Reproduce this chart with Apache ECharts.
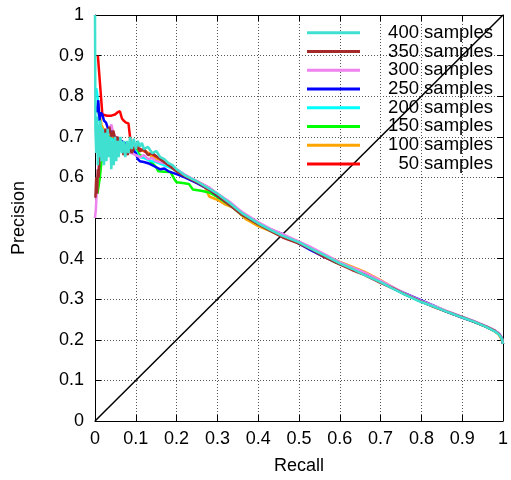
<!DOCTYPE html>
<html>
<head>
<meta charset="utf-8">
<script src="https://cdn.jsdelivr.net/npm/echarts@6/dist/echarts.min.js"></script>
<style>html,body{margin:0;padding:0;background:#fff;overflow:hidden}#c{width:511px;height:480px}</style>
</head>
<body>
<div id="c"></div>
<script>
var xTicks = ['0','0.1','0.2','0.3','0.4','0.5','0.6','0.7','0.8','0.9','1'];
var seriesNames = ['400 samples','350 samples','300 samples','250 samples','200 samples','150 samples','100 samples','50 samples'];
var seriesColors = ['#40e0d0','#a52a2a','#ee82ee','#0000ff','#00ffff','#00ff00','#ffa500','#ff0000'];

var s400 = [[0,1],[0.001,0.72],[0.003,0.66],[0.005,0.75],[0.007,0.63],[0.009,0.73],[0.011,0.65],[0.013,0.74],[0.016,0.64],[0.019,0.72],[0.022,0.63],[0.025,0.71],[0.028,0.64],[0.031,0.72],[0.034,0.65],[0.037,0.7],[0.040,0.62],[0.043,0.69],[0.046,0.63],[0.049,0.7],[0.052,0.64],[0.055,0.69],[0.058,0.65],[0.062,0.7],[0.066,0.66],[0.07,0.69],[0.074,0.65],[0.078,0.69],[0.082,0.66],[0.086,0.7],[0.09,0.67],[0.095,0.695],[0.1,0.67],[0.105,0.69],[0.11,0.675],[0.115,0.685],[0.12,0.67],[0.13,0.675],[0.14,0.66],[0.15,0.665],[0.16,0.65],[0.17,0.645],[0.18,0.635],[0.19,0.63],[0.2,0.62],[0.22,0.605],[0.25,0.59],[0.28,0.572],[0.3,0.56],[0.33,0.537],[0.36,0.512],[0.4,0.487],[0.43,0.471],[0.46,0.456],[0.5,0.44],[0.53,0.424],[0.56,0.409],[0.6,0.388],[0.63,0.375],[0.66,0.36],[0.7,0.342],[0.73,0.326],[0.76,0.311],[0.8,0.293],[0.83,0.282],[0.86,0.27],[0.9,0.255],[0.93,0.244],[0.96,0.231],[0.98,0.221],[0.99,0.213],[0.997,0.203],[1,0.19]];
var s350 = [[0.001,0.55],[0.003,0.6],[0.005,0.56],[0.007,0.62],[0.009,0.6],[0.011,0.65],[0.014,0.68],[0.018,0.66],[0.022,0.7],[0.026,0.72],[0.03,0.7],[0.035,0.725],[0.04,0.7],[0.045,0.715],[0.05,0.69],[0.055,0.7],[0.06,0.67],[0.065,0.68],[0.07,0.655],[0.075,0.67],[0.08,0.655],[0.085,0.675],[0.09,0.66],[0.1,0.68],[0.11,0.665],[0.12,0.67],[0.13,0.655],[0.14,0.66],[0.16,0.645],[0.18,0.63],[0.2,0.615],[0.22,0.603],[0.25,0.588],[0.28,0.57],[0.3,0.556],[0.33,0.532],[0.36,0.508],[0.4,0.485],[0.43,0.468],[0.46,0.452],[0.5,0.437],[0.53,0.423],[0.56,0.405],[0.6,0.386],[0.63,0.372],[0.66,0.36],[0.7,0.34],[0.73,0.327],[0.76,0.312],[0.8,0.294],[0.83,0.281],[0.86,0.27],[0.9,0.256],[0.93,0.244],[0.96,0.232],[0.98,0.222],[0.99,0.214],[0.997,0.204],[1,0.19]];
var s300 = [[0,0.5],[0.002,0.52],[0.004,0.56],[0.006,0.6],[0.009,0.63],[0.012,0.66],[0.016,0.68],[0.02,0.7],[0.025,0.71],[0.03,0.7],[0.035,0.72],[0.04,0.73],[0.045,0.71],[0.05,0.7],[0.055,0.69],[0.06,0.68],[0.065,0.67],[0.07,0.675],[0.075,0.66],[0.08,0.665],[0.09,0.66],[0.1,0.655],[0.11,0.65],[0.12,0.655],[0.13,0.645],[0.14,0.648],[0.15,0.64],[0.17,0.635],[0.19,0.628],[0.2,0.62],[0.22,0.607],[0.25,0.59],[0.28,0.575],[0.3,0.56],[0.33,0.54],[0.36,0.515],[0.4,0.49],[0.43,0.473],[0.46,0.46],[0.5,0.442],[0.53,0.428],[0.56,0.412],[0.6,0.391],[0.63,0.378],[0.66,0.366],[0.7,0.346],[0.73,0.33],[0.76,0.314],[0.8,0.296],[0.83,0.284],[0.86,0.272],[0.9,0.257],[0.93,0.246],[0.96,0.233],[0.98,0.223],[0.99,0.216],[0.997,0.206],[1,0.19]];
var s250 = [[0.004,0.76],[0.008,0.79],[0.011,0.74],[0.014,0.76],[0.018,0.755],[0.022,0.74],[0.027,0.735],[0.032,0.72],[0.038,0.715],[0.044,0.705],[0.05,0.7],[0.057,0.695],[0.064,0.69],[0.072,0.685],[0.08,0.68],[0.088,0.68],[0.095,0.665],[0.1,0.66],[0.105,0.645],[0.11,0.64],[0.12,0.638],[0.13,0.635],[0.14,0.63],[0.15,0.625],[0.16,0.62],[0.17,0.622],[0.18,0.615],[0.2,0.608],[0.22,0.6],[0.25,0.586],[0.28,0.57],[0.3,0.555],[0.33,0.533],[0.36,0.51],[0.4,0.486],[0.43,0.472],[0.46,0.46],[0.5,0.437],[0.53,0.42],[0.56,0.405],[0.6,0.387],[0.63,0.375],[0.66,0.361],[0.7,0.342],[0.73,0.327],[0.76,0.314],[0.8,0.297],[0.83,0.284],[0.86,0.27],[0.9,0.255],[0.93,0.244],[0.96,0.232],[0.98,0.222],[0.99,0.215],[0.997,0.205],[1,0.19]];
var s200 = [[0.003,0.82],[0.006,0.8],[0.009,0.76],[0.012,0.73],[0.016,0.72],[0.02,0.71],[0.025,0.705],[0.03,0.7],[0.04,0.695],[0.05,0.69],[0.06,0.685],[0.07,0.68],[0.08,0.675],[0.09,0.67],[0.1,0.665],[0.105,0.655],[0.11,0.65],[0.12,0.648],[0.13,0.643],[0.14,0.64],[0.15,0.638],[0.17,0.63],[0.19,0.622],[0.2,0.615],[0.22,0.602],[0.25,0.587],[0.28,0.571],[0.3,0.558],[0.33,0.536],[0.36,0.511],[0.4,0.487],[0.43,0.47],[0.46,0.456],[0.5,0.44],[0.53,0.425],[0.56,0.41],[0.6,0.39],[0.63,0.377],[0.66,0.362],[0.7,0.343],[0.73,0.327],[0.76,0.311],[0.8,0.293],[0.83,0.283],[0.86,0.271],[0.9,0.256],[0.93,0.245],[0.96,0.232],[0.98,0.222],[0.99,0.215],[0.997,0.205],[1,0.19]];
var s150 = [[0.006,0.56],[0.009,0.58],[0.012,0.6],[0.015,0.63],[0.018,0.66],[0.022,0.68],[0.027,0.69],[0.033,0.7],[0.04,0.695],[0.05,0.69],[0.06,0.685],[0.07,0.68],[0.08,0.675],[0.09,0.67],[0.1,0.668],[0.11,0.655],[0.12,0.65],[0.13,0.645],[0.14,0.635],[0.15,0.625],[0.155,0.615],[0.17,0.614],[0.185,0.613],[0.195,0.595],[0.2,0.588],[0.215,0.586],[0.23,0.584],[0.24,0.57],[0.26,0.567],[0.28,0.563],[0.3,0.552],[0.33,0.532],[0.36,0.508],[0.4,0.485],[0.43,0.469],[0.46,0.455],[0.5,0.438],[0.53,0.422],[0.56,0.407],[0.59,0.39],[0.62,0.38],[0.66,0.363],[0.7,0.343],[0.73,0.328],[0.76,0.312],[0.8,0.294],[0.83,0.283],[0.86,0.27],[0.9,0.256],[0.93,0.244],[0.96,0.232],[0.98,0.222],[0.99,0.214],[0.997,0.204],[1,0.19]];
var s100 = [[0.005,0.77],[0.009,0.77],[0.012,0.75],[0.016,0.73],[0.02,0.72],[0.025,0.71],[0.03,0.705],[0.04,0.7],[0.05,0.695],[0.06,0.69],[0.07,0.685],[0.08,0.68],[0.09,0.675],[0.1,0.67],[0.11,0.665],[0.12,0.668],[0.13,0.66],[0.14,0.65],[0.16,0.64],[0.18,0.628],[0.2,0.615],[0.22,0.603],[0.25,0.587],[0.27,0.575],[0.28,0.553],[0.3,0.545],[0.32,0.533],[0.34,0.525],[0.37,0.497],[0.4,0.48],[0.43,0.468],[0.46,0.455],[0.5,0.44],[0.53,0.425],[0.56,0.41],[0.6,0.392],[0.63,0.38],[0.66,0.368],[0.7,0.347],[0.73,0.329],[0.76,0.313],[0.8,0.295],[0.83,0.283],[0.86,0.271],[0.9,0.256],[0.93,0.244],[0.96,0.231],[0.98,0.221],[0.99,0.212],[0.997,0.2],[1,0.19]];
var s50 = [[0.007,0.9],[0.01,0.9],[0.018,0.755],[0.03,0.752],[0.04,0.752],[0.049,0.755],[0.055,0.76],[0.061,0.763],[0.066,0.745],[0.07,0.74],[0.076,0.735],[0.082,0.733],[0.087,0.69],[0.093,0.685],[0.1,0.68],[0.11,0.67],[0.12,0.665],[0.13,0.66],[0.14,0.655],[0.16,0.642],[0.18,0.63],[0.2,0.617],[0.22,0.605],[0.25,0.59],[0.28,0.574],[0.3,0.559],[0.33,0.538],[0.36,0.513],[0.4,0.488],[0.43,0.472],[0.46,0.458],[0.5,0.441],[0.53,0.426],[0.56,0.41],[0.6,0.39],[0.63,0.377],[0.66,0.363],[0.7,0.344],[0.73,0.328],[0.76,0.313],[0.8,0.294],[0.83,0.282],[0.86,0.27],[0.9,0.255],[0.93,0.244],[0.96,0.232],[0.98,0.222],[0.99,0.215],[0.997,0.205],[1,0.19]];
var diagonal = [[0,0],[1,1]];

var seriesData = [s400,s350,s300,s250,s200,s150,s100,s50];

var chart = echarts.init(document.getElementById('c'), null, {renderer:'canvas', width:511, height:480});
var FONT = 'Liberation Sans, Arial, Helvetica, sans-serif';
var gridLine = {show:true, lineStyle:{color:'#555', type:[1,2], width:1}};
function axisCommon(pos, showLabel, showSplit){
  return {
    type:'value', min:0, max:1, interval:0.1, position:pos,
    axisLine:{show:true, onZero:false, lineStyle:{color:'#000', width:1}},
    axisTick:{show:true, inside:true, length:6, lineStyle:{color:'#000'}},
    axisLabel:{show:showLabel, color:'#000', fontSize:18, fontFamily:FONT, margin: pos==='bottom'?9:11},
    splitLine: showSplit ? gridLine : {show:false}
  };
}
var xBottom = axisCommon('bottom', true, true);
xBottom.name = 'Recall'; xBottom.nameLocation='middle'; xBottom.nameGap=36;
xBottom.nameTextStyle = {color:'#000', fontSize:18, fontFamily:FONT};
var yLeft = axisCommon('left', true, true);
yLeft.name = 'Precision'; yLeft.nameLocation='middle'; yLeft.nameGap=67;
yLeft.nameTextStyle = {color:'#000', fontSize:18, fontFamily:FONT};

var series = [{
  type:'line', data:diagonal, showSymbol:false, silent:true,
  lineStyle:{color:'#000', width:1.5}, z:1
}];
// draw 50 first, 400 last (on top)
for (var i = seriesData.length-1; i >= 0; i--) {
  series.push({
    name:seriesNames[i], type:'line', data:seriesData[i], showSymbol:false,
    color:seriesColors[i], lineStyle:{color:seriesColors[i], width:2.5}, z:2
  });
}

chart.setOption({
  animation:false,
  backgroundColor:'#fff',
  grid:{left:95, top:15, width:412, height:410, containLabel:false},
  xAxis:[xBottom, axisCommon('top', false, false)],
  yAxis:[yLeft, axisCommon('right', false, false)],
  legend:{
    data:seriesNames, orient:'vertical', left:302, top:18.2,
    icon:'rect', itemWidth:53, itemHeight:3, itemGap:-0.26, selectedMode:false,
    formatter:function(n){return '{a|'+n+'}';},
    textStyle:{color:'#000', fontSize:18.5, fontFamily:FONT,
      rich:{a:{width:128, align:'right', fontSize:18.5, fontFamily:FONT, height:18, lineHeight:18, color:'#000'}}}
  },
  series:series
});
</script>
</body>
</html>
